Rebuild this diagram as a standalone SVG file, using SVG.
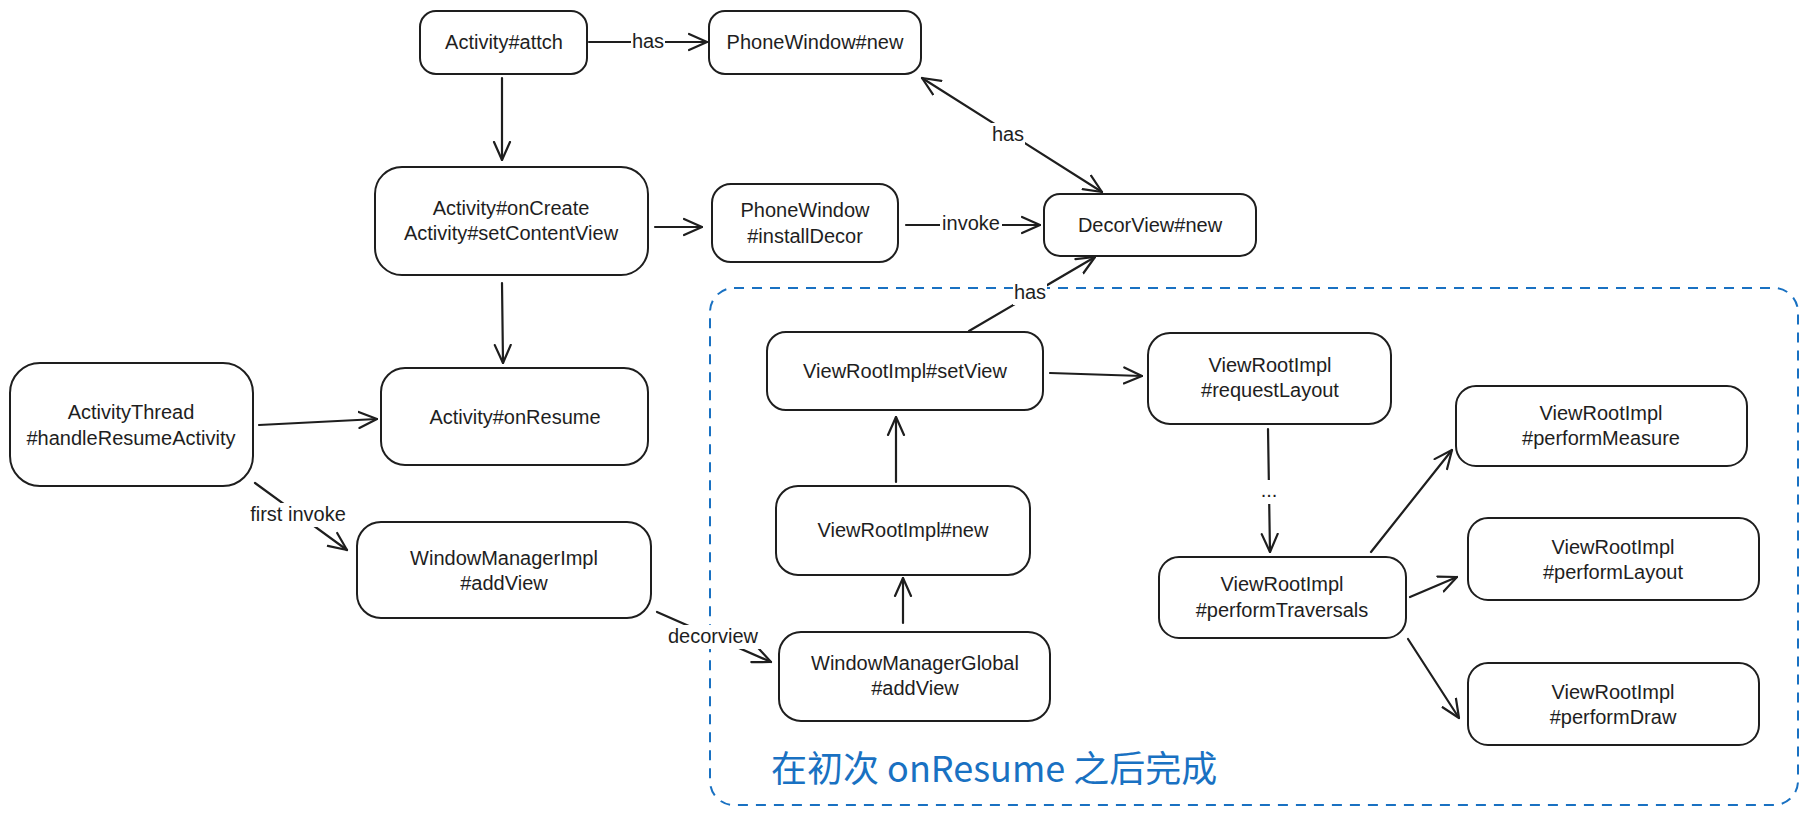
<svg xmlns="http://www.w3.org/2000/svg" width="1807" height="815" viewBox="0 0 1807 815">
<style>
.box{fill:#ffffff;stroke:#1e1e1e;stroke-width:2}
.t{font-family:"Liberation Sans",Arial,sans-serif;font-size:20px;fill:#1e1e1e;text-anchor:middle;dominant-baseline:central}
.c{fill:none;stroke:#1e1e1e;stroke-width:2.2;stroke-linecap:round}
.lbg{fill:#ffffff}
.grp{fill:none;stroke:#1971c2;stroke-width:2;stroke-dasharray:10 8}
</style>
<defs>
<marker id="ah" viewBox="0 0 20 20" markerWidth="20" markerHeight="20" refX="19" refY="10" markerUnits="userSpaceOnUse" orient="auto-start-reverse">
<path d="M1,2 L19,10 L1,18" fill="none" stroke="#1e1e1e" stroke-width="2.2" stroke-linecap="round" stroke-linejoin="round"/>
</marker>
</defs>
<rect id="group-onresume" class="grp" x="710" y="288" width="1088" height="517" rx="24"/>
<text x="771" y="782" font-family="'Noto Sans CJK SC',sans-serif" font-size="36" fill="#1971c2">在初次 onResume 之后完成</text>
<g id="connectors">
<path class="c" marker-end="url(#ah)" d="M589,42 L707,42"/>
<path class="c" marker-end="url(#ah)" d="M502,78 L502,160"/>
<path class="c" marker-end="url(#ah)" d="M655,227 L702,227"/>
<path class="c" marker-end="url(#ah)" d="M906,225 L1040,225"/>
<path class="c" marker-start="url(#ah)" marker-end="url(#ah)" d="M922,78 L1102,192"/>
<path class="c" marker-end="url(#ah)" d="M969,331 L1095,257"/>
<path class="c" marker-end="url(#ah)" d="M259,425 L377,419"/>
<path class="c" marker-end="url(#ah)" d="M255,483 L347,550"/>
<path class="c" marker-end="url(#ah)" d="M502,283 L503,363"/>
<path class="c" marker-end="url(#ah)" d="M657,612 L771,662"/>
<path class="c" marker-end="url(#ah)" d="M903,623 L903,578"/>
<path class="c" marker-end="url(#ah)" d="M896,482 L896,417"/>
<path class="c" marker-end="url(#ah)" d="M1050,373 L1142,376"/>
<path class="c" marker-end="url(#ah)" d="M1268,429 L1270,552"/>
<path class="c" marker-end="url(#ah)" d="M1371,552 L1452,450"/>
<path class="c" marker-end="url(#ah)" d="M1410,597 L1457,577"/>
<path class="c" marker-end="url(#ah)" d="M1408,639 L1459,718"/>
<rect class="lbg" x="631" y="30" width="34" height="24"/>
<text class="t" x="648" y="41">has</text>
<rect class="lbg" x="940" y="212" width="62" height="24"/>
<text class="t" x="971" y="223">invoke</text>
<rect class="lbg" x="991" y="123" width="34" height="24"/>
<text class="t" x="1008" y="134">has</text>
<rect class="lbg" x="1013" y="281" width="34" height="24"/>
<text class="t" x="1030" y="292">has</text>
<rect class="lbg" x="243" y="503" width="110" height="24"/>
<text class="t" x="298" y="514">first invoke</text>
<rect class="lbg" x="665" y="625" width="96" height="24"/>
<text class="t" x="713" y="636">decorview</text>
<rect class="lbg" x="1256" y="480" width="26" height="24"/>
<text class="t" x="1269" y="490">...</text>
</g>
<g id="n-attch"><rect class="box" x="420" y="11" width="167" height="63" rx="16"/><text class="t" x="504" y="42">Activity#attch</text></g>
<g id="n-phonewindow-new"><rect class="box" x="709" y="11" width="212" height="63" rx="16"/><text class="t" x="815" y="42">PhoneWindow#new</text></g>
<g id="n-oncreate"><rect class="box" x="375" y="167" width="273" height="108" rx="27"/><text class="t" x="511" y="208">Activity#onCreate</text><text class="t" x="511" y="233">Activity#setContentView</text></g>
<g id="n-installdecor"><rect class="box" x="712" y="184" width="186" height="78" rx="19"/><text class="t" x="805" y="210">PhoneWindow</text><text class="t" x="805" y="236">#installDecor</text></g>
<g id="n-decorview"><rect class="box" x="1044" y="194" width="212" height="62" rx="16"/><text class="t" x="1150" y="225">DecorView#new</text></g>
<g id="n-activitythread"><rect class="box" x="10" y="363" width="243" height="123" rx="30"/><text class="t" x="131" y="412">ActivityThread</text><text class="t" x="131" y="438">#handleResumeActivity</text></g>
<g id="n-onresume"><rect class="box" x="381" y="368" width="267" height="97" rx="24"/><text class="t" x="515" y="417">Activity#onResume</text></g>
<g id="n-wmimpl"><rect class="box" x="357" y="522" width="294" height="96" rx="24"/><text class="t" x="504" y="558">WindowManagerImpl</text><text class="t" x="504" y="583">#addView</text></g>
<g id="n-setview"><rect class="box" x="767" y="332" width="276" height="78" rx="19"/><text class="t" x="905" y="371">ViewRootImpl#setView</text></g>
<g id="n-requestlayout"><rect class="box" x="1148" y="333" width="243" height="91" rx="22"/><text class="t" x="1270" y="365">ViewRootImpl</text><text class="t" x="1270" y="390">#requestLayout</text></g>
<g id="n-vri-new"><rect class="box" x="776" y="486" width="254" height="89" rx="22"/><text class="t" x="903" y="530">ViewRootImpl#new</text></g>
<g id="n-wmglobal"><rect class="box" x="779" y="632" width="271" height="89" rx="22"/><text class="t" x="915" y="663">WindowManagerGlobal</text><text class="t" x="915" y="688">#addView</text></g>
<g id="n-traversals"><rect class="box" x="1159" y="557" width="247" height="81" rx="20"/><text class="t" x="1282" y="584">ViewRootImpl</text><text class="t" x="1282" y="610">#performTraversals</text></g>
<g id="n-measure"><rect class="box" x="1456" y="386" width="291" height="80" rx="20"/><text class="t" x="1601" y="413">ViewRootImpl</text><text class="t" x="1601" y="438">#performMeasure</text></g>
<g id="n-layout"><rect class="box" x="1468" y="518" width="291" height="82" rx="20"/><text class="t" x="1613" y="547">ViewRootImpl</text><text class="t" x="1613" y="572">#performLayout</text></g>
<g id="n-draw"><rect class="box" x="1468" y="663" width="291" height="82" rx="20"/><text class="t" x="1613" y="692">ViewRootImpl</text><text class="t" x="1613" y="717">#performDraw</text></g>
</svg>
